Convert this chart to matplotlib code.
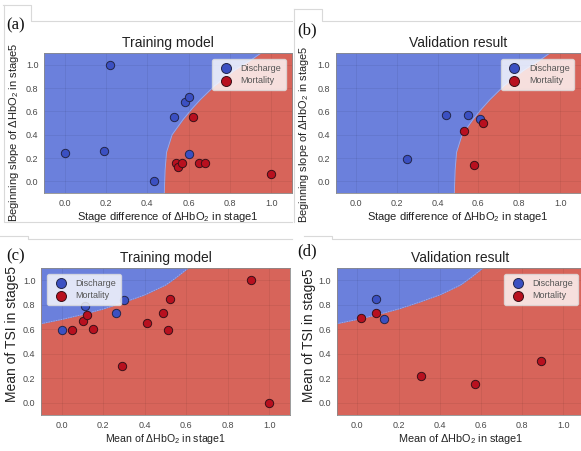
import matplotlib
matplotlib.use("Agg")
import matplotlib.pyplot as plt
from matplotlib.lines import Line2D

plt.rcParams['font.family'] = ['Liberation Sans', 'DejaVu Sans']
plt.rcParams['mathtext.fontset'] = 'custom'
plt.rcParams['mathtext.rm'] = 'Liberation Sans'
plt.rcParams['mathtext.it'] = 'Liberation Sans:italic'

# ---- data ----
# (a) training, stage difference vs beginning slope
a_dis_x = [0.00, 0.19, 0.22, 0.43, 0.53, 0.58, 0.60, 0.60]
a_dis_y = [0.24, 0.26, 1.00, 0.00, 0.55, 0.68, 0.72, 0.23]
a_mor_x = [0.62, 0.54, 0.55, 0.57, 0.65, 0.68, 1.00]
a_mor_y = [0.55, 0.16, 0.12, 0.16, 0.16, 0.16, 0.06]

# (b) validation
b_dis_x = [0.25, 0.44, 0.55, 0.61]
b_dis_y = [0.19, 0.57, 0.57, 0.53]
b_mor_x = [0.53, 0.62, 0.58]
b_mor_y = [0.43, 0.50, 0.14]

# (c) training, mean dHbO2 vs mean TSI
c_dis_x = [0.00, 0.11, 0.26, 0.30]
c_dis_y = [0.59, 0.79, 0.73, 0.84]
c_mor_x = [0.05, 0.10, 0.12, 0.15, 0.29, 0.41, 0.49, 0.51, 0.52, 0.91, 1.00]
c_mor_y = [0.59, 0.67, 0.72, 0.60, 0.30, 0.65, 0.73, 0.59, 0.85, 1.00, 0.00]

# (d) validation
d_dis_x = [0.09, 0.13]
d_dis_y = [0.85, 0.68]
d_mor_x = [0.02, 0.09, 0.31, 0.57, 0.89]
d_mor_y = [0.69, 0.73, 0.22, 0.15, 0.34]

# decision boundaries (mortality to the right / below)
bound1_y = [-0.10, 0.10, 0.25, 0.40, 0.53, 0.62, 0.70, 0.82, 0.95, 1.05, 1.10]
bound1_x = [0.482, 0.486, 0.493, 0.520, 0.573, 0.615, 0.656, 0.726, 0.820, 0.910, 0.950]
bound2_x = [-0.10, 0.00, 0.10, 0.20, 0.30, 0.40, 0.50, 0.55, 0.61]
bound2_y = [0.645, 0.68, 0.72, 0.765, 0.82, 0.88, 0.96, 1.02, 1.10]

ticks = [0.0, 0.2, 0.4, 0.6, 0.8, 1.0]
labels = ['Discharge', 'Mortality']

blue_bg = '#6b80dc'
red_bg = '#d7645a'
blue_pt = '#3b50c2'
red_pt = '#b8101f'

W, H = 581, 451
fig = plt.figure(figsize=(W / 100, H / 100), dpi=100)


def add_ax(l, t, r, b):
    return fig.add_axes([l / W, 1 - b / H, (r - l) / W, (b - t) / H])


def style(ax, title, xlabel, ylabel, xsize, ysize, ypos):
    ax.set_xlim(-0.1, 1.1)
    ax.set_ylim(-0.1, 1.1)
    ax.set_xticks(ticks)
    ax.set_yticks(ticks)
    ax.tick_params(length=0, labelsize=6.5, labelcolor='#4a4a4a', pad=4)
    ax.set_axisbelow(True)
    ax.grid(True, color='black', alpha=0.07, lw=0.6)
    for s in ax.spines.values():
        s.set_color('#8a8a8a')
        s.set_linewidth(0.6)
    ax.set_title(title, fontsize=10, color='#222222', pad=4)
    ax.set_xlabel(xlabel, fontsize=xsize, color='#222222', labelpad=1.5)
    ax.set_ylabel(ylabel, fontsize=ysize, color='#222222')
    ax.yaxis.set_label_coords(*ypos)


def points(ax, dx, dy, mx, my, loc):
    ax.scatter(dx, dy, s=36, color=blue_pt, edgecolor='#23264a', lw=0.7, zorder=3, label=labels[0])
    ax.scatter(mx, my, s=36, color=red_pt, edgecolor='#3a1018', lw=0.7, zorder=3, label=labels[1])
    leg = ax.legend(loc=loc, fontsize=6.5, frameon=True, framealpha=0.8, facecolor='white',
                    edgecolor='#dddddd', borderpad=0.5, handletextpad=0.6, labelspacing=0.35,
                    markerscale=1.2, borderaxespad=0.7)
    for t in leg.get_texts():
        t.set_color('#555555')


def region_right(ax):
    ax.set_facecolor(blue_bg)
    ax.fill_betweenx(bound1_y, bound1_x, 1.2, color=red_bg, lw=0, zorder=0.3)
    ax.plot(bound1_x, bound1_y, color='white', alpha=0.35, lw=0.6, zorder=0.4)


def region_top(ax):
    ax.set_facecolor(red_bg)
    ax.fill_between(bound2_x, bound2_y, 1.2, color=blue_bg, lw=0, zorder=0.3)
    ax.plot(bound2_x, bound2_y, color='white', alpha=0.35, lw=0.6, ls=(0, (2, 1)), zorder=0.4)


xl1 = 'Stage difference of ΔHbO$_2$ in stage1'
yl1 = 'Beginning slope of ΔHbO$_2$ in stage5'
xl2 = 'Mean of ΔHbO$_2$ in stage1'
yl2 = 'Mean of TSI in stage5'

ax_a = add_ax(44, 53, 292, 193)
region_right(ax_a)
style(ax_a, 'Training model', xl1, yl1, 8.0, 8.0, (-0.093, 0.435))
points(ax_a, a_dis_x, a_dis_y, a_mor_x, a_mor_y, 'upper right')

ax_b = add_ax(335.5, 53, 580.5, 193)
region_right(ax_b)
style(ax_b, 'Validation result', xl1, yl1, 8.0, 7.9, (-0.1, 0.42))
points(ax_b, b_dis_x, b_dis_y, b_mor_x, b_mor_y, 'upper right')

ax_c = add_ax(41, 268, 290, 415)
region_top(ax_c)
style(ax_c, 'Training model', xl2, yl2, 7.6, 10, (-0.088, 0.554))
points(ax_c, c_dis_x, c_dis_y, c_mor_x, c_mor_y, 'upper left')

ax_d = add_ax(336.7, 268, 584, 415)
region_top(ax_d)
style(ax_d, 'Validation result', xl2, yl2, 7.8, 9.8, (-0.084, 0.545))
points(ax_d, d_dis_x, d_dis_y, d_mor_x, d_mor_y, 'upper right')

# panel letters
for txt, x, y in [('(a)', 6, 25), ('(b)', 297, 30), ('(c)', 6, 256), ('(d)', 297, 251)]:
    fig.text(x / W, 1 - y / H, txt, fontsize=12, family='Liberation Serif',
             color='#111111', ha='left', va='center')

# faint page frames around each panel
frame = [
    ([3, 31, 31, 292], [5, 5, 21, 21]),
    ([4, 4, 292], [5, 222, 222]),
    ([294, 322, 322, 581], [9, 9, 21, 21]),
    ([294, 294], [9, 222]),
    ([0, 28, 28, 292], [236, 236, 239, 239]),
    ([304, 332, 332, 581], [236, 236, 239, 239]),
]
for xs, ys in frame:
    fig.add_artist(Line2D([v / W for v in xs], [1 - v / H for v in ys],
                          color='#d9d9d9', lw=0.8))

fig.savefig('out.png', dpi=100)
